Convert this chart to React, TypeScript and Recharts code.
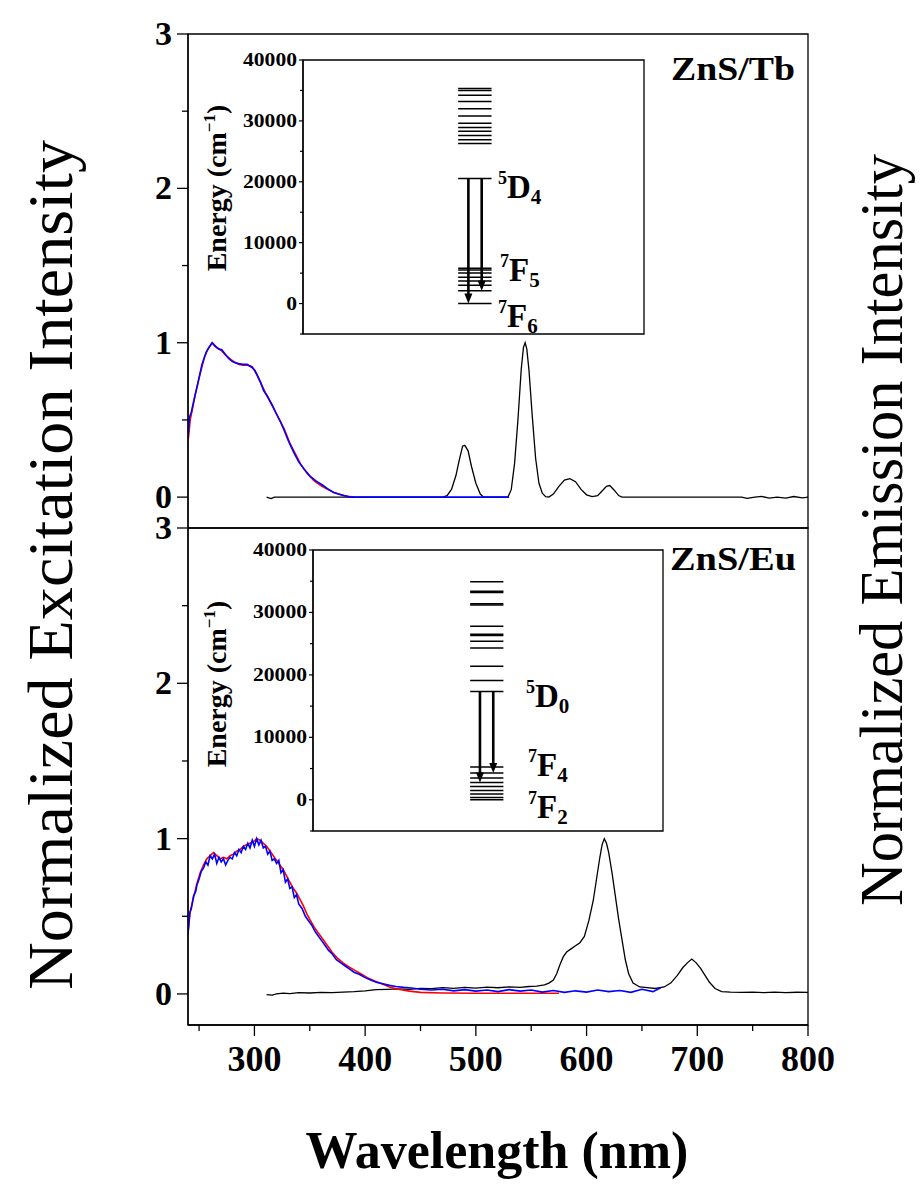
import React from "react";
import {
  LineChart,
  Line,
  ComposedChart,
  Scatter,
  XAxis,
  YAxis,
  ReferenceArea,
  ReferenceLine,
} from "recharts";

const FONT = '"Liberation Serif", "Times New Roman", serif';

// main axes
const WL_TICKS = [250, 300, 350, 400, 450, 500, 550, 600, 650, 700, 750, 800];
const INT_TICKS = [0, 0.5, 1, 1.5, 2, 2.5, 3];
const E_TICKS = [-5000, 0, 5000, 10000, 15000, 20000, 25000, 30000, 35000, 40000];

// ---------------- ZnS/Tb spectra ----------------
const tbExcNm = [
  240, 241.4, 243, 245.1, 248.7, 252.6, 256.5, 259, 261.7, 264,
  267.6, 270.5, 273.7, 276.5, 279.8, 282.5, 285.7, 289.5, 293.3, 297.8,
  300.5, 302.9, 305.5, 308.3, 312, 315.9, 319.5, 323.4, 327, 330.9,
  335.5, 339.9, 345, 350.5, 355.5, 361.1, 366, 371.5, 376, 380.6,
  386.6, 400, 430, 460, 490, 510, 530,
];
const tbExcBlue = [
  0.38, 0.52, 0.55, 0.62, 0.73, 0.86, 0.94, 0.97, 1.0, 0.98,
  0.96, 0.955, 0.925, 0.9, 0.88, 0.87, 0.865, 0.86, 0.86, 0.84,
  0.82, 0.785, 0.745, 0.69, 0.65, 0.6, 0.545, 0.49, 0.43, 0.36,
  0.29, 0.23, 0.18, 0.134, 0.105, 0.08, 0.055, 0.03, 0.02, 0.01,
  0, 0, 0, 0, 0, 0, 0,
];
const tbExcRedNm = [
  240, 242, 244, 247, 251, 255, 258, 262, 266, 270,
  274, 278, 282, 286, 290, 294, 298, 302, 306, 310,
  314, 318, 322, 327, 332, 337, 342, 348, 354, 360,
  366, 372, 378, 384, 390,
];
const tbExcRed = [
  0.36, 0.5, 0.57, 0.68, 0.8, 0.91, 0.96, 1.0, 0.97, 0.95,
  0.92, 0.895, 0.875, 0.86, 0.855, 0.855, 0.845, 0.795, 0.735, 0.675,
  0.62, 0.565, 0.51, 0.44, 0.35, 0.28, 0.21, 0.15, 0.105, 0.075,
  0.05, 0.03, 0.015, 0.005, 0,
];
const tbEmNm = [
  311, 315, 318, 322, 340, 400, 450, 470, 474, 478,
  482, 485, 488, 490, 493, 496, 500, 504, 507, 529,
  532, 535, 538, 541, 543, 544.5, 546, 548, 551, 554,
  557, 560, 563, 566, 570, 575, 580, 585, 590, 595,
  600, 605, 610, 614, 618, 621, 625, 629, 632, 700,
  740, 745, 752, 758, 765, 772, 780, 787, 795, 800,
];
const tbEm = [
  0, -0.01, 0, 0, 0, 0, 0, 0, 0.01, 0.05,
  0.14, 0.24, 0.33, 0.335, 0.3, 0.2, 0.09, 0.02, 0, 0,
  0.05, 0.22, 0.5, 0.83, 0.97, 1.0, 0.96, 0.82, 0.52, 0.25,
  0.09, 0.025, 0.003, 0, 0.02, 0.07, 0.11, 0.12, 0.1, 0.05,
  0.015, 0.003, 0.01, 0.04, 0.07, 0.075, 0.045, 0.01, 0, 0,
  0, -0.008, 0, 0.005, -0.006, 0, -0.007, 0.004, -0.005, 0,
];

// ---------------- ZnS/Eu spectra ----------------
const euExcBlueNm = [
  240, 241.5, 243, 245, 247, 248, 250, 252, 254, 256,
  258, 260, 262, 264, 266, 268, 270, 272, 274, 276,
  278, 280, 282, 284, 286, 288, 290, 292, 294, 296,
  298, 300, 302, 304, 306, 308, 310, 312, 314, 316,
  318, 320, 322, 324, 326, 328, 330, 332, 334, 336,
  338, 340, 343, 346, 349, 352, 355, 358, 361, 364,
  367, 370, 374, 378, 382, 386, 390, 395, 400, 405,
  410, 416, 422, 428, 435, 442, 450, 460, 470, 480,
  490, 500, 510, 520, 530, 540, 550, 560, 570, 580,
  590, 600, 610, 620, 630, 640, 650, 660, 667,
];
const euExcBlue = [
  0.38, 0.52, 0.55, 0.63, 0.66, 0.7, 0.74, 0.79, 0.81, 0.85,
  0.83, 0.89, 0.87, 0.9, 0.84, 0.88, 0.85, 0.87, 0.83, 0.86,
  0.88, 0.87, 0.91, 0.89, 0.93, 0.91, 0.95, 0.93, 0.97, 0.94,
  0.99, 0.95, 1.0, 0.96, 0.99, 0.94, 0.95, 0.9, 0.92, 0.86,
  0.87, 0.84, 0.86, 0.78, 0.8, 0.72, 0.74, 0.68, 0.69, 0.62,
  0.64, 0.58, 0.55, 0.5, 0.47, 0.44, 0.4, 0.37, 0.34, 0.31,
  0.28, 0.26, 0.22, 0.2, 0.18, 0.16, 0.14, 0.125, 0.105, 0.09,
  0.075, 0.065, 0.055, 0.048, 0.042, 0.038, 0.03, 0.025, 0.03, 0.02,
  0.028, 0.018, 0.025, 0.015, 0.028, 0.018, 0.025, 0.012, 0.022, 0.01,
  0.02, 0.012, 0.025, 0.015, 0.022, 0.01, 0.03, 0.015, 0.04,
];
const euExcRedNm = [
  240, 242, 245, 248, 251, 254, 257, 260, 263, 266,
  269, 272, 275, 278, 281, 284, 287, 290, 293, 296,
  299, 302, 305, 308, 311, 314, 317, 320, 323, 326,
  329, 332, 335, 338, 341, 344, 347, 350, 354, 358,
  362, 366, 370, 375, 380, 385, 390, 396, 402, 408,
  415, 422, 430, 440, 450, 470, 500, 540, 575,
];
const euExcRed = [
  0.4, 0.53, 0.62, 0.71, 0.78, 0.83, 0.87, 0.89, 0.91, 0.89,
  0.87, 0.88, 0.87, 0.89, 0.9, 0.92, 0.93, 0.95, 0.96, 0.97,
  0.98, 1.0, 0.99, 0.97, 0.95, 0.92, 0.89, 0.86, 0.83, 0.8,
  0.76, 0.72, 0.68, 0.65, 0.61, 0.57, 0.52, 0.48, 0.43, 0.39,
  0.35, 0.31, 0.27, 0.23, 0.2, 0.175, 0.155, 0.13, 0.105, 0.085,
  0.065, 0.045, 0.03, 0.018, 0.01, 0.006, 0.004, 0.004, 0.004,
];
const euEmNm = [
  311, 316, 320, 326, 332, 340, 350, 360, 370, 380,
  390, 400, 410, 420, 430, 440, 450, 460, 470, 480,
  490, 500, 510, 520, 530, 540, 548, 555, 562, 566,
  570, 573, 576, 579, 582, 586, 590, 594, 598, 602,
  606, 609, 612, 614, 616, 618, 620, 623, 626, 629,
  632, 635, 638, 642, 648, 655, 662, 670, 676, 682,
  687, 691, 695, 699, 703, 707, 711, 716, 722, 730,
  740, 750, 760, 770, 780, 790, 800,
];
const euEm = [
  -0.005, -0.008, 0, 0.005, 0.002, 0.008, 0.006, 0.01, 0.008, 0.012,
  0.015, 0.02, 0.028, 0.03, 0.033, 0.03, 0.036, 0.034, 0.04, 0.036,
  0.042, 0.038, 0.044, 0.04, 0.045, 0.042, 0.048, 0.05, 0.058, 0.07,
  0.09, 0.13, 0.19, 0.24, 0.27, 0.29, 0.31, 0.33, 0.37, 0.47,
  0.6, 0.74, 0.88, 0.96, 1.0, 0.97, 0.91, 0.78, 0.63, 0.48,
  0.35, 0.22, 0.13, 0.07, 0.045, 0.04, 0.035, 0.045, 0.07, 0.12,
  0.17, 0.2, 0.225, 0.2, 0.165, 0.12, 0.075, 0.035, 0.015, 0.012,
  0.01, 0.012, 0.008, 0.012, 0.009, 0.011, 0.01,
];

// ---------------- energy level diagrams (cm-1) ----------------
const tbUpperLevels = [35300, 35000, 34200, 33200, 32000, 30800, 29600, 28900, 28300, 27600, 26900, 26300];
const tbEmitting = 20540;
const tbLowerLevels = [0, 2100, 3000, 3700, 4300, 5000, 5500, 5800];
const tbArrowTo = [0, 2100];

const euUpperLevels = [34900, 33400, 33200, 31400, 31200, 27800, 26500, 26300, 25400, 24300, 21400, 19100];
const euEmitting = 17330;
const euLowerLevels = [0, 370, 910, 1490, 2130, 2770, 3470, 4270, 5230];
const euArrowTo = [2770, 4270];

const pts = (nm: number[], v: number[]) => nm.map((x, i) => ({ nm: x, v: v[i] }));

// ---------------- ticks ----------------
const MainYTick = (p: any) => {
  const { x, y, payload } = p;
  const major = Number.isInteger(payload.value);
  return (
    <g>
      <line x1={x - (major ? 11 : 6)} x2={x} y1={y} y2={y} stroke="#000" strokeWidth={1.3} />
      {major && (
        <text x={x - 16} y={y + 11} textAnchor="end" fontFamily={FONT} fontWeight="bold" fontSize={34} fill="#000">
          {payload.value}
        </text>
      )}
    </g>
  );
};

const MainXTick = (p: any) => {
  const { x, y, payload } = p;
  const major = payload.value % 100 === 0;
  return (
    <g>
      <line x1={x} x2={x} y1={y} y2={y + (major ? 11 : 6)} stroke="#000" strokeWidth={1.3} />
      {major && (
        <text x={x} y={y + 46} textAnchor="middle" fontFamily={FONT} fontWeight="bold" fontSize={36} fill="#000">
          {payload.value}
        </text>
      )}
    </g>
  );
};

const InsetYTick = (p: any) => {
  const { x, y, payload } = p;
  const major = payload.value % 10000 === 0;
  const label = String(payload.value);
  return (
    <g>
      <line x1={x - (major ? 4 : 3)} x2={x} y1={y} y2={y} stroke="#000" strokeWidth={1.2} />
      {major && (
        <text
          x={x - 6}
          y={y + 6}
          textAnchor="end"
          fontFamily={FONT}
          fontWeight="bold"
          fontSize={18}
          fill="#000"
          textLength={label.length * 10.8}
          lengthAdjust="spacingAndGlyphs"
        >
          {label}
        </text>
      )}
    </g>
  );
};

// ---------------- main spectrum panel ----------------
interface PanelProps {
  top: number;
  height: number;
  marginTop: number;
  marginBottom: number;
  showX: boolean;
  black: { nm: number; v: number }[];
  red: { nm: number; v: number }[];
  blue: { nm: number; v: number }[];
}

const SpectrumPanel: React.FC<PanelProps> = ({ top, height, marginTop, marginBottom, showX, black, red, blue }) => (
  <div style={{ position: "absolute", left: 0, top }}>
    <LineChart width={920} height={height} margin={{ top: marginTop, right: 112, bottom: marginBottom, left: 0 }}>
      <XAxis
        type="number"
        dataKey="nm"
        domain={[240, 800]}
        allowDataOverflow
        ticks={WL_TICKS}
        hide={!showX}
        height={60}
        tickSize={0}
        tickMargin={0}
        tickLine={false}
        axisLine={{ stroke: "#000", strokeWidth: 1.3 }}
        tick={MainXTick}
        interval={0}
      />
      <YAxis
        type="number"
        domain={[-0.2, 3]}
        allowDataOverflow
        ticks={INT_TICKS}
        width={188}
        tickSize={0}
        tickMargin={0}
        tickLine={false}
        axisLine={{ stroke: "#000", strokeWidth: 1.3 }}
        tick={MainYTick}
        interval={0}
      />
      <ReferenceArea x1={240} x2={800} y1={-0.2} y2={3} fill="none" stroke="#000" strokeWidth={1.3} />
      <Line data={black} dataKey="v" type="linear" stroke="#000" strokeWidth={1.3} dot={false} isAnimationActive={false} />
      <Line data={red} dataKey="v" type="linear" stroke="#ff0000" strokeWidth={1.6} dot={false} isAnimationActive={false} />
      <Line data={blue} dataKey="v" type="linear" stroke="#0000ff" strokeWidth={1.6} dot={false} isAnimationActive={false} />
    </LineChart>
  </div>
);

// ---------------- energy level inset ----------------
interface InsetProps {
  left: number;
  top: number;
  width: number;
  height: number;
  margin: { top: number; right: number; bottom: number; left: number };
  upper: number[];
  emitting: number;
  lower: number[];
  arrowTo: number[];
  levelX: [number, number];
  arrowX: number[];
}

const Arrowhead = (p: any) => {
  const { cx, cy } = p;
  return <polygon points={`${cx - 4},${cy - 10} ${cx + 4},${cy - 10} ${cx},${cy}`} fill="#000" />;
};

const EnergyInset: React.FC<InsetProps> = ({ left, top, width, height, margin, upper, emitting, lower, arrowTo, levelX, arrowX }) => {
  const levels = [...upper, emitting, ...lower];
  const tips = arrowTo.map((e, i) => ({ x: arrowX[i], y: e }));
  return (
    <div style={{ position: "absolute", left, top }}>
      <ComposedChart width={width} height={height} margin={margin}>
        <XAxis type="number" dataKey="x" domain={[0, 100]} hide />
        <YAxis
          type="number"
          domain={[-5000, 40000]}
          ticks={E_TICKS}
          width={103}
          tickSize={0}
          tickMargin={0}
          tickLine={false}
          axisLine={{ stroke: "#000", strokeWidth: 1.3 }}
          tick={InsetYTick}
          interval={0}
        />
        <ReferenceArea x1={0} x2={100} y1={-5000} y2={40000} fill="#fff" fillOpacity={0} stroke="#000" strokeWidth={1.3} />
        {levels.map((e, i) => (
          <ReferenceLine
            key={`lv-${i}`}
            segment={[
              { x: levelX[0], y: e },
              { x: levelX[1], y: e },
            ]}
            stroke="#000"
            strokeWidth={1.5}
          />
        ))}
        {arrowTo.map((e, i) => (
          <ReferenceLine
            key={`ar-${i}`}
            segment={[
              { x: arrowX[i], y: emitting },
              { x: arrowX[i], y: e + 800 },
            ]}
            stroke="#000"
            strokeWidth={2.6}
          />
        ))}
        <Scatter data={tips} dataKey="y" shape={Arrowhead} isAnimationActive={false} />
      </ComposedChart>
    </div>
  );
};

// ---------------- labels ----------------
const LevelLabel = ({ x, y, sup, main, sub }: { x: number; y: number; sup: string; main: string; sub: string }) => (
  <text x={x} y={y} fontFamily={FONT} fontWeight="bold" fill="#000">
    <tspan fontSize={18} dy={-14}>{sup}</tspan>
    <tspan fontSize={33} dy={14}>{main}</tspan>
    <tspan fontSize={21} dy={6}>{sub}</tspan>
  </text>
);

const EnergyTitle = ({ x, y }: { x: number; y: number }) => (
  <text transform={`translate(${x},${y}) rotate(-90)`} textAnchor="middle" fontFamily={FONT} fontWeight="bold" fontSize={28} fill="#000">
    Energy (cm
    <tspan fontSize={17} dy={-11}>−1</tspan>
    <tspan dy={11}>)</tspan>
  </text>
);

export default function App() {
  return (
    <div style={{ position: "absolute", left: 0, top: 0, width: 920, height: 1188, background: "#fff", fontFamily: FONT }}>
      <SpectrumPanel
        top={0}
        height={540}
        marginTop={34}
        marginBottom={12}
        showX={false}
        black={pts(tbEmNm, tbEm)}
        red={pts(tbExcRedNm, tbExcRed)}
        blue={pts(tbExcNm, tbExcBlue)}
      />
      <SpectrumPanel
        top={500}
        height={620}
        marginTop={28}
        marginBottom={35}
        showX={true}
        black={pts(euEmNm, euEm)}
        red={pts(euExcRedNm, euExcRed)}
        blue={pts(euExcBlueNm, euExcBlue)}
      />
      <EnergyInset
        left={200}
        top={40}
        width={460}
        height={310}
        margin={{ top: 20, right: 16, bottom: 16, left: 0 }}
        upper={tbUpperLevels}
        emitting={tbEmitting}
        lower={tbLowerLevels}
        arrowTo={tbArrowTo}
        levelX={[45.5, 55.3]}
        arrowX={[48.5, 52.4]}
      />
      <EnergyInset
        left={210}
        top={530}
        width={470}
        height={320}
        margin={{ top: 20, right: 17, bottom: 19, left: 0 }}
        upper={euUpperLevels}
        emitting={euEmitting}
        lower={euLowerLevels}
        arrowTo={euArrowTo}
        levelX={[44.9, 54.4]}
        arrowX={[47.7, 51.5]}
      />
      <svg width={920} height={1188} style={{ position: "absolute", left: 0, top: 0, pointerEvents: "none" }}>
        <text
          transform="translate(72,565) rotate(-90)"
          textAnchor="middle"
          fontFamily={FONT}
          fontSize={64}
          fill="#000"
          textLength={850}
          lengthAdjust="spacingAndGlyphs"
        >
          Normalized Excitation Intensity
        </text>
        <text
          transform="translate(902,530) rotate(-90)"
          textAnchor="middle"
          fontFamily={FONT}
          fontSize={62}
          fill="#000"
          textLength={752}
          lengthAdjust="spacingAndGlyphs"
        >
          Normalized Emission Intensity
        </text>
        <text x={497} y={1168} textAnchor="middle" fontFamily={FONT} fontWeight="bold" fontSize={52} fill="#000">
          Wavelength (nm)
        </text>
        <text x={795} y={80} textAnchor="end" fontFamily={FONT} fontWeight="bold" fontSize={34} fill="#000" textLength={124} lengthAdjust="spacingAndGlyphs">
          ZnS/Tb
        </text>
        <text x={796} y={570} textAnchor="end" fontFamily={FONT} fontWeight="bold" fontSize={34} fill="#000" textLength={126} lengthAdjust="spacingAndGlyphs">
          ZnS/Eu
        </text>
        <EnergyTitle x={226} y={188} />
        <EnergyTitle x={226} y={684} />
        <LevelLabel x={498} y={198} sup="5" main="D" sub="4" />
        <LevelLabel x={500} y={281} sup="7" main="F" sub="5" />
        <LevelLabel x={498} y={327} sup="7" main="F" sub="6" />
        <LevelLabel x={526} y={707} sup="5" main="D" sub="0" />
        <LevelLabel x={528} y={776} sup="7" main="F" sub="4" />
        <LevelLabel x={528} y={818} sup="7" main="F" sub="2" />
      </svg>
    </div>
  );
}
